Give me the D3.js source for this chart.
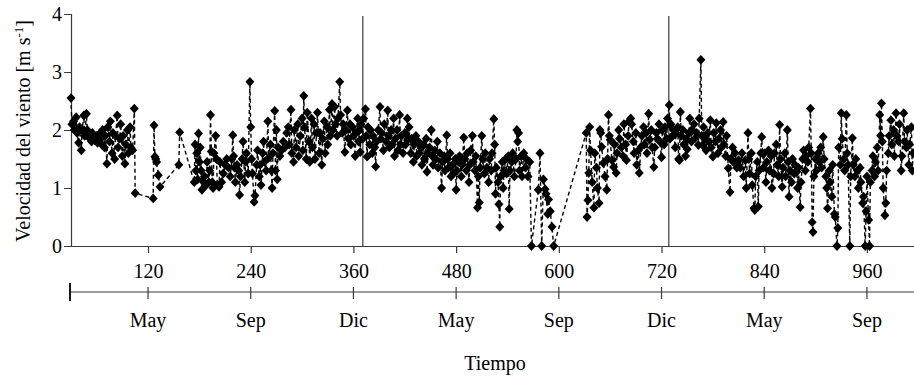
<!DOCTYPE html>
<html><head><meta charset="utf-8">
<script src="https://cdn.jsdelivr.net/npm/d3@7"></script>
<style>html,body{margin:0;padding:0;background:#fff}svg{display:block}svg text{font-family:'Liberation Serif','Times New Roman',Times,'DejaVu Serif',serif !important;fill:#000}</style>
</head><body><svg id="c" width="914" height="376"></svg>
<script>
// [day, wind speed m/s]
const year1 = [[30,2.55],[31,2.1],[33,2.15],[34,2.0],[36,2.22],[37,1.95],[39,1.78],[40,2.05],[42,1.65],[43,2.0],[45,2.25],[46,1.9],[48,2.28],[49,2.0],[51,1.95],[52,1.85],[54,1.8],[55,1.95],[57,1.9],[58,1.82],[60,1.9],[61,1.78],[63,1.85],[64,1.95],[66,1.75],[67,2.0],[69,1.7],[70,1.9],[72,1.42],[73,2.05],[75,1.8],[76,2.15],[78,1.6],[79,1.95],[81,1.5],[82,1.9],[84,2.25],[85,1.7],[87,1.85],[88,2.1],[90,1.55],[91,1.9],[93,1.42],[94,1.75],[96,2.0],[97,1.6],[99,2.05],[100,1.7],[102,1.65],[104,2.37],[105,0.91],
[126,0.82],[127,2.08],[128,1.54],[129,1.5],[130,1.45],[132,1.22],[134,1.02],[156,1.4],[157,1.96],
[174,1.1],[175,1.75],[176,1.3],[177,1.6],[178,1.15],[179,1.94],[180,1.45],[181,1.7],[182,1.3],[183,0.97],[185,1.1],[186,1.2],[188,1.05],[189,1.45],[191,1.1],[192,1.3],[193,2.26],[194,1.63],[195,1.1],[196,1.0],[197,1.6],[199,1.9],[200,1.5],[201,1.05],[203,1.02],[204,1.45],[206,1.1],[208,1.25],[210,1.4],[212,1.5],[214,1.35],[216,1.2],[218,1.5],[219,1.91],[220,1.55],[221,1.35],[222,1.1],[224,1.4],[226,1.3],[227,0.88],[228,1.2],[230,1.5],[231,1.8],[233,1.1],[234,1.45],[235,1.6],[237,1.25],[239,2.83],[240,2.05],[241,1.5],[242,1.25],[244,0.76],[245,0.87],[247,1.4],[248,1.65],[250,1.2],[251,1.4],[252,1.05],[254,1.6],[255,1.8],[256,1.45],[258,1.3],[260,2.15],[261,1.52],[263,1.75],[264,1.3],[265,1.0],[266,1.6],[268,2.33],[269,1.3],[270,2.0],[271,1.15],[272,1.7],[274,1.55],[276,1.65],[278,1.8],[280,1.7],[282,1.95],[284,2.05],[285,1.75],[287,2.35],[288,1.6],[290,1.45],[291,2.0],[293,1.7],[295,2.1],[296,1.55],[298,1.9],[300,2.2],[301,1.65],[302,2.59],[303,2.05],[305,1.5],[306,2.3],[308,1.8],[309,1.45],[311,2.2],[312,1.7],[314,2.1],[315,1.5],[317,1.95],[318,2.3],[320,1.6],[321,1.95],[323,1.4],[324,1.85],[326,2.15],[327,1.6],[329,2.05],[330,1.75],[332,2.35],[333,1.9],[335,2.45],[336,2.0],[338,2.4],[339,2.1],[341,1.9],[342,2.2],[344,2.83],[345,2.26],[347,1.95],[348,2.1],[350,1.62],[351,2.0],[353,2.34],[354,1.85],[356,2.1],[357,1.75],[359,2.05],[360,1.9],[362,1.55],[363,1.95],[365,2.2],[366,1.8]];
const year2 = [[367,2.0],[368,1.62],[369,2.1],[371,1.85],[372,2.2],[374,2.36],[375,1.9],[376,1.54],[377,2.05],[379,1.75],[380,2.0],[382,1.6],[383,1.9],[385,1.7],[386,1.37],[387,1.8],[389,2.0],[391,2.4],[392,1.85],[393,1.95],[395,1.65],[396,2.1],[398,1.8],[400,2.34],[401,1.9],[402,1.7],[404,2.0],[405,1.75],[407,2.2],[408,1.55],[409,1.85],[411,2.0],[412,1.65],[414,2.26],[415,1.75],[416,1.9],[418,1.6],[420,1.95],[421,1.75],[423,2.2],[424,1.85],[425,2.05],[427,1.6],[428,1.85],[430,1.45],[431,1.75],[433,1.9],[434,1.55],[436,1.8],[437,1.6],[439,1.7],[440,1.4],[442,1.75],[443,1.5],[445,1.85],[446,1.28],[447,1.6],[449,1.7],[451,2.0],[452,1.55],[453,1.4],[455,1.65],[456,1.5],[458,1.8],[459,1.35],[461,1.6],[463,1.0],[464,1.45],[466,1.55],[467,1.3],[469,1.91],[470,1.5],[471,1.35],[473,1.6],[474,1.2],[476,1.4],[477,1.25],[479,1.5],[480,0.97],[481,1.3],[483,1.45],[484,1.55],[486,1.2],[487,1.4],[489,1.87],[490,1.5],[492,1.3],[493,1.6],[495,1.1],[496,1.4],[497,1.65],[499,1.9],[500,1.45],[502,1.3],[503,1.55],[505,0.66],[506,1.2],[507,0.75],[508,1.35],[510,1.9],[511,1.5],[513,1.25],[514,1.6],[516,1.35],[518,1.1],[519,1.5],[521,1.3],[522,1.6],[524,2.19],[525,1.75],[526,0.9],[527,1.35],[529,1.1],[530,0.72],[531,0.33],[532,1.2],[534,1.45],[535,1.0],[536,1.3],[538,1.5],[539,1.25],[541,1.55],[542,0.64],[543,1.3],[545,1.45],[546,1.6],[548,1.2],[550,1.5],[551,2.0],[552,1.8],[553,1.95],[554,1.3],[556,1.55],[557,1.2],[559,1.6],[561,1.35],[562,1.5],[564,1.2],[566,1.45],[568,0],[576,0.97],[578,1.6],[580,0],[582,1.15],[584,0.98],[585,0.9],[587,0.55],[588,0.8],[590,0.6],[592,0.33],[594,0]];
const year3 = [[632,1.95],[633,0.5],[634,0.79],[635,1.26],[636,2.05],[637,1.65],[639,1.1],[641,0.66],[642,1.6],[644,1.35],[645,1.0],[647,0.74],[648,2.0],[649,1.95],[650,1.71],[652,1.43],[654,1.2],[656,0.97],[657,1.5],[658,2.26],[659,1.9],[660,1.83],[662,1.48],[664,1.36],[665,1.75],[667,1.26],[668,1.6],[670,2.0],[671,1.85],[673,1.7],[675,1.55],[676,2.1],[678,1.75],[679,1.48],[681,1.9],[682,2.15],[684,2.2],[685,2.1],[687,1.8],[688,1.6],[690,1.95],[691,1.4],[693,1.65],[694,1.26],[696,1.71],[697,1.9],[699,2.05],[700,1.75],[702,1.95],[703,1.6],[705,2.28],[706,1.83],[708,2.0],[709,1.7],[711,1.36],[712,1.7],[714,1.95],[715,1.85],[717,2.1],[718,1.8],[720,1.53],[721,2.0],[723,1.75],[724,2.05],[726,1.85],[727,2.2],[729,2.43],[730,1.85],[731,2.1],[733,1.9],[734,2.0],[736,1.7],[737,1.95],[739,2.05],[740,1.5],[741,1.48],[742,2.31],[743,1.9],[745,2.0],[746,1.75],[748,1.55],[749,1.85],[750,1.67],[752,1.95],[753,2.2],[755,1.8],[756,2.0],[758,2.1],[759,1.85],[761,1.95],[763,1.74],[764,2.2],[766,3.21],[767,1.9],[768,1.74],[769,2.05],[771,1.85],[772,1.65],[774,1.95],[775,1.8],[777,2.17],[778,1.7],[780,1.54],[781,1.95],[783,1.8],[784,2.12],[786,1.6],[787,1.85],[789,2.0],[790,1.7],[792,2.14],[793,1.75],[795,1.55],[796,1.9],[798,1.34],[800,0.93],[801,1.5],[803,1.7],[804,1.45],[806,1.6],[808,1.35],
[810,1.48],[812,1.35],[814,1.6],[816,1.2],[818,1.48],[819,1.0],[821,1.95],[822,1.5],[823,1.25],[825,1.6],[826,1.05],[828,0.65],[829,0.62],[830,1.2],[832,1.45],[833,0.68],[834,1.3],[836,1.6],[837,1.88],[839,1.35],[840,1.6],[842,1.1],[843,1.45],[845,1.65],[846,1.3],[848,1.55],[849,1.0],[851,1.25],[852,1.6],[854,1.75],[855,1.4],[857,1.2],[858,2.09],[859,1.5],[861,1.02],[862,1.35],[864,1.6],[865,1.2],[867,2.0],[868,1.45],[869,0.85],[870,1.3],[872,1.1],[873,1.5],[875,1.25],[876,1.4],[878,1.28],[879,1.0],[880,1.35],[882,0.67],[883,1.1],[885,1.5],[886,1.65],[888,1.3],[889,1.55],[891,1.45],[892,1.7],[894,2.37],[895,1.6],[896,0.41],[897,0.24],[898,1.2],[900,1.5],[901,1.3],[903,1.6],[904,1.45],[906,1.7],[907,1.35],[909,1.88],[910,1.5],[912,1.2],[913,1.0],[914,0.65],[916,1.3],[917,1.1],[919,0.85],[920,1.4],[922,0.55],[923,0.5],[925,0],[926,0.31],[927,1.7],[929,1.4],[930,2.29],[931,1.85],[933,1.5],[934,1.3],[936,2.26],[937,1.6],[938,1.4],[940,0],[941,1.2],[943,1.86],[944,1.4],[946,1.2],[947,1.5],[949,1.3],[950,1.0],[952,1.35],[953,1.1],[955,0.74],[956,0.85],[958,0],[959,0.6],[960,1.2],[962,0.45],[963,0],[964,1.1],[966,1.3],[967,1.55],[969,1.2],[970,1.45],[972,1.7],[973,1.3],[975,2.26],[976,1.9],[977,2.46],[978,1.8],[979,1.0],[981,0.53],[982,0.74],[983,1.3],[985,1.6],[986,1.9],[988,2.17],[989,1.75],[991,2.0],[992,1.55],[994,2.29],[995,1.9],[997,1.8],[998,2.1],[1000,1.3],[1001,1.55],[1003,2.29],[1004,1.8],[1006,1.7],[1007,2.0],[1009,1.4],[1010,1.75],[1012,2.05],[1013,1.3],[1014,1.6]];

const dayTicks = [120,240,360,480,600,720,840,960];
const monthLabels = ["May","Sep","Dic","May","Sep","Dic","May","Sep"];
const yTicks = [0,1,2,3,4];
const yearMarks = [371,728.5];
const yLabel = "Velocidad del viento [m s";
const xLabel = "Tiempo";

const FONT = "'Liberation Serif','Times New Roman',Times,'DejaVu Serif',serif";
const FS = 20;
const data = year1.concat(year2, year3);
const svg = d3.select("#c");
const x = d3.scaleLinear().domain([30,1015]).range([71,914]);
const y = d3.scaleLinear().domain([0,4]).range([246,14]);
const axisColor = "#3a3a3a";

// y axis
const gy = svg.append("g").attr("transform","translate(71,0)")
  .call(d3.axisLeft(y).tickValues(yTicks).tickSize(7).tickPadding(2).tickFormat(d3.format("d")));
gy.attr("font-family",FONT);
gy.select(".domain").attr("stroke",axisColor).attr("stroke-width",1.2);
gy.selectAll(".tick line").attr("stroke",axisColor);
gy.selectAll(".tick text").attr("font-size",FS).attr("fill","#000");

// x axis (numeric)
const gx = svg.append("g").attr("transform","translate(0,246)")
  .call(d3.axisBottom(x).tickValues(dayTicks).tickSize(7).tickPadding(11).tickSizeOuter(0));
gx.attr("font-family",FONT);
gx.select(".domain").attr("stroke",axisColor).attr("stroke-width",1.2);
gx.selectAll(".tick line").attr("stroke",axisColor).attr("stroke-width",1.2);
gx.selectAll(".tick text").attr("font-size",FS).attr("fill","#000");

// month axis
const gm = svg.append("g").attr("transform","translate(0,292)").attr("font-family",FONT);
gm.append("line").attr("x1",x(30)-1).attr("x2",914).attr("y1",0).attr("y2",0).attr("stroke",axisColor).attr("stroke-width",1.2);
gm.append("line").attr("x1",x(30)-1).attr("x2",x(30)-1).attr("y1",-9).attr("y2",9).attr("stroke","#000").attr("stroke-width",1.8);
gm.selectAll("line.mt").data(dayTicks).join("line").attr("class","mt")
  .attr("x1",d=>x(d)).attr("x2",d=>x(d)).attr("y1",-5).attr("y2",7).attr("stroke",axisColor).attr("stroke-width",1.2);
gm.selectAll("text").data(dayTicks).join("text")
  .attr("x",d=>x(d)).attr("y",35).attr("text-anchor","middle").attr("font-size",FS)
  .text((d,i)=>monthLabels[i]);

// year separator lines
svg.selectAll("line.ym").data(yearMarks).join("line").attr("class","ym")
  .attr("x1",d=>x(d)).attr("x2",d=>x(d)).attr("y1",16).attr("y2",246)
  .attr("stroke",axisColor).attr("stroke-width",1.2);

// series line
const line = d3.line().x(d=>x(d[0])).y(d=>y(d[1]));
svg.append("path").datum(data).attr("d",line).attr("fill","none")
  .attr("stroke","#000").attr("stroke-width",1.4).attr("stroke-dasharray","4,3");

// diamonds
svg.append("g").selectAll("path").data(data).join("path")
  .attr("transform",d=>`translate(${x(d[0])},${y(d[1])})`)
  .attr("d","M0,-4.9L4.5,0L0,4.9L-4.5,0Z").attr("fill","#000");

// labels
svg.append("text").attr("x",495).attr("y",370).attr("text-anchor","middle").attr("font-size",FS).attr("font-family",FONT).text(xLabel);
const yl = svg.append("text").attr("transform","translate(30,131) rotate(-90)").attr("text-anchor","middle").attr("font-size",FS).attr("font-family",FONT);
yl.append("tspan").text(yLabel);
yl.append("tspan").attr("dy",-7).attr("font-size",13).text("-1");
yl.append("tspan").attr("dy",7).text("]");
</script></body></html>
